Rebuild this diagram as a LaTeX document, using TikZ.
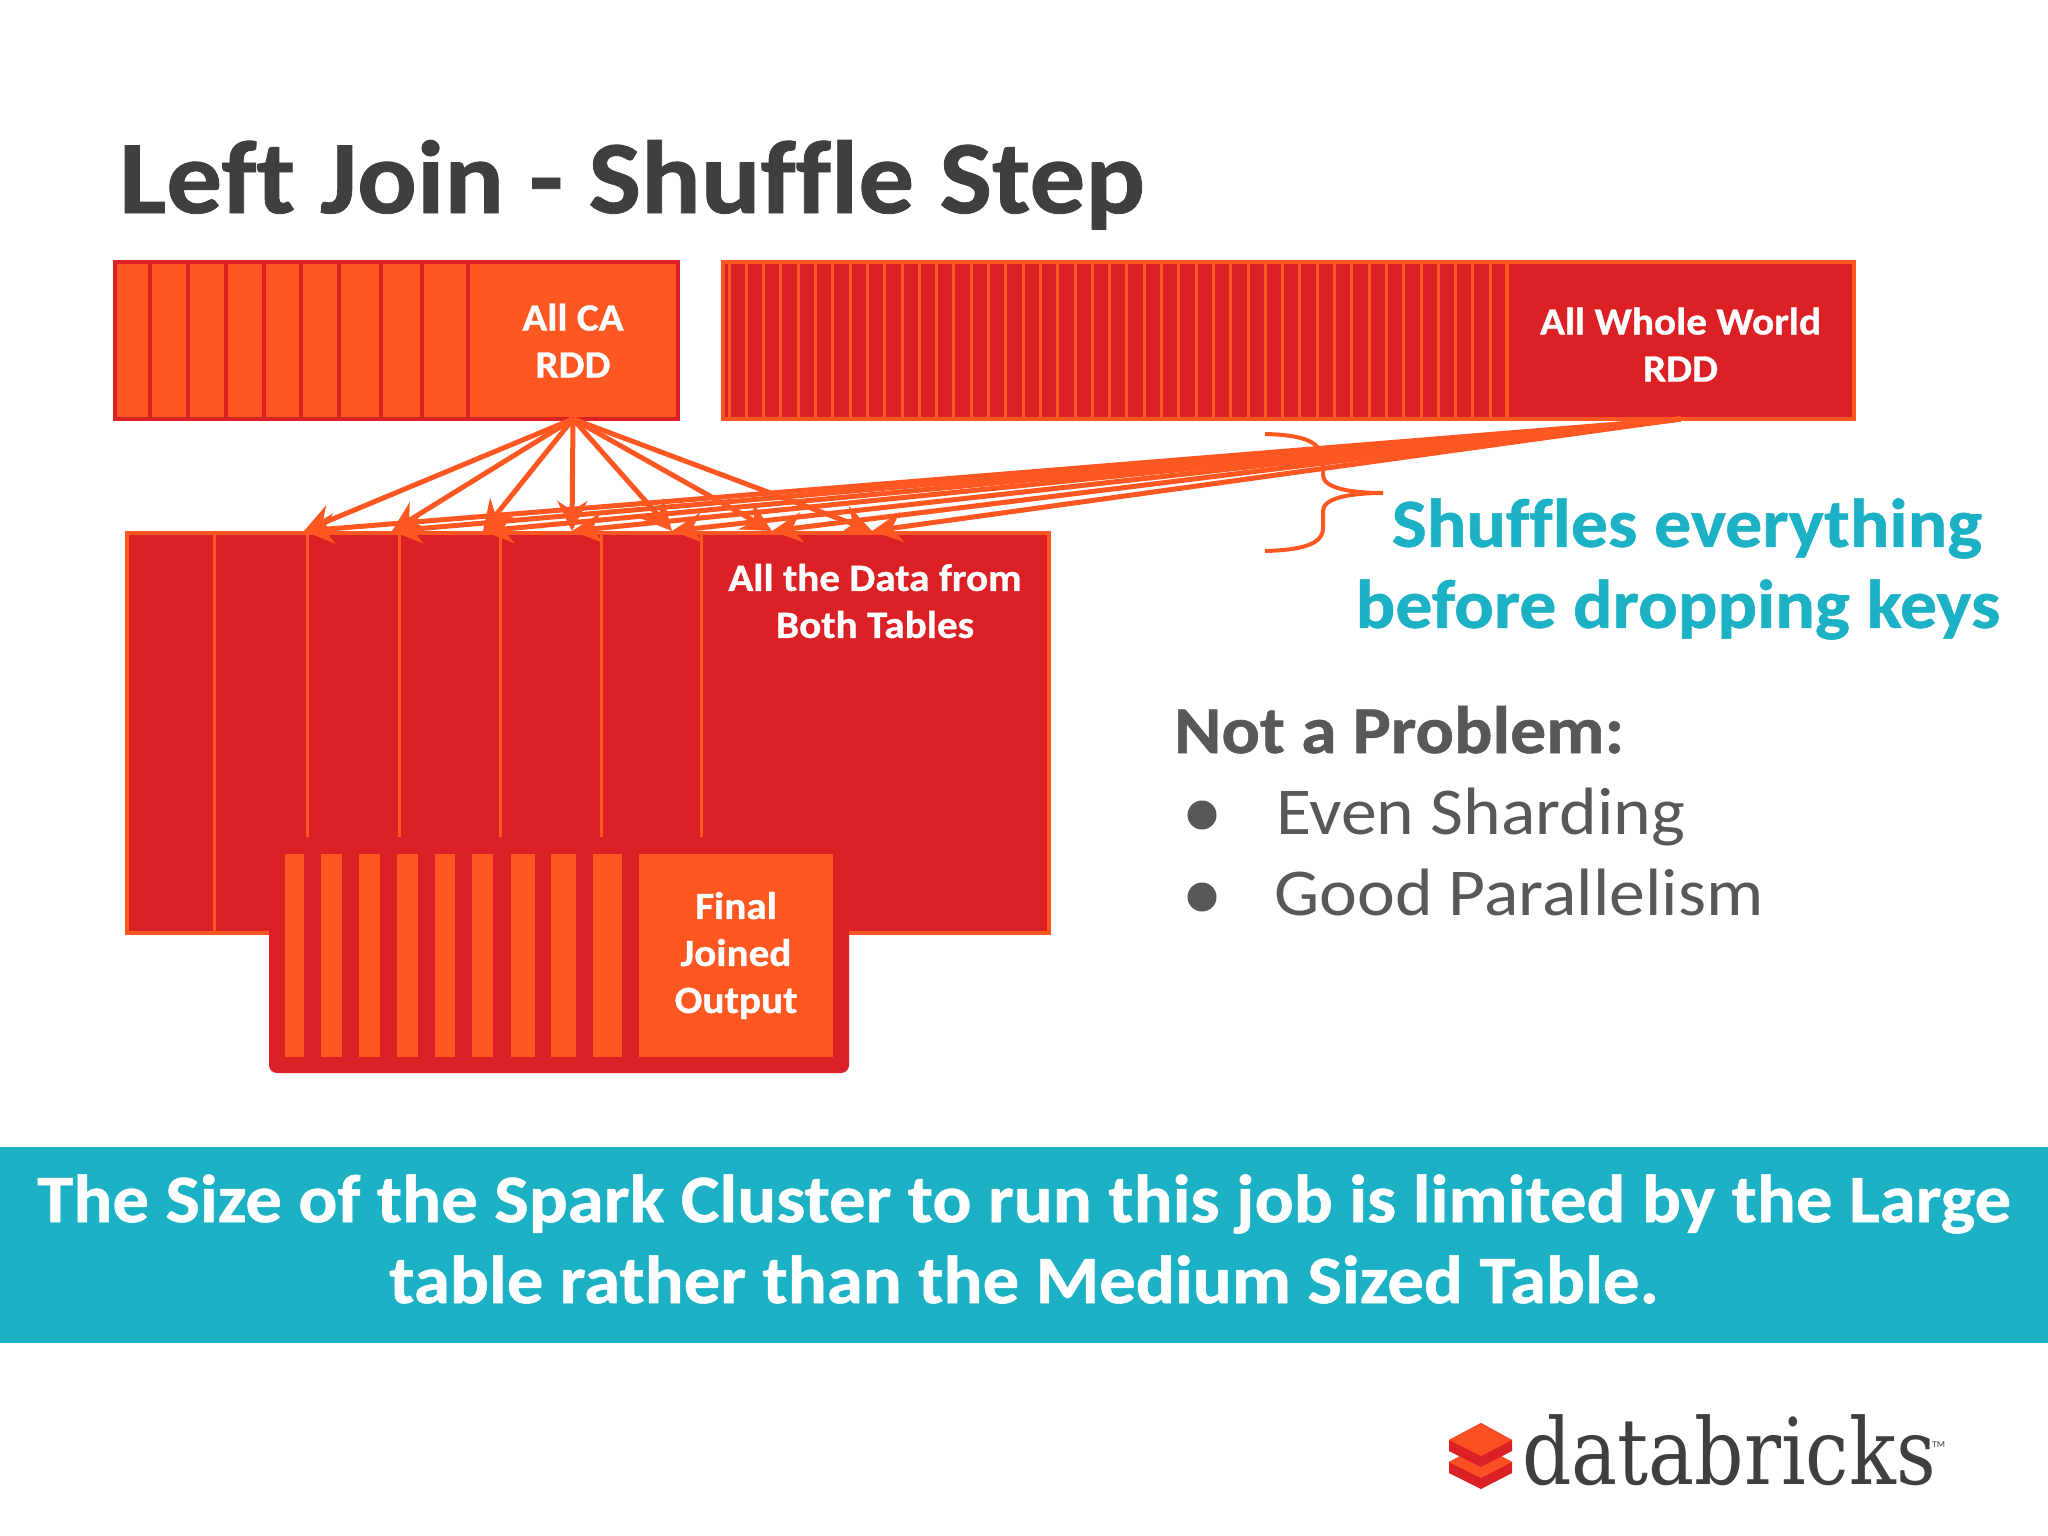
\documentclass[tikz,border=0pt]{standalone}
\usepackage{fontspec}
\setmainfont[Ligatures=NoCommon,FakeStretch=1.07,BoldFeatures={FakeBold=0.8}]{Carlito}
\newfontfamily\logofont[FakeStretch=0.84]{DejaVu Serif}
\usetikzlibrary{arrows.meta,positioning}
\definecolor{brickorange}{HTML}{FF5722}
\definecolor{brickred}{HTML}{DC2126}
\definecolor{shuffleteal}{HTML}{1CB1C4}
\definecolor{titlegray}{HTML}{3F3F40}
\definecolor{bodygray}{HTML}{58585A}
\tikzset{
  cacell/.style ={fill=brickorange,draw=brickred,line width=4pt,text=white,font=\fontsize{38.5}{47}\selectfont\bfseries,
                  align=center,outer sep=0pt,inner sep=0pt,anchor=north west},
  wwcell/.style ={fill=brickred,draw=brickorange,line width=4pt,text=white,font=\fontsize{38.5}{47}\selectfont\bfseries,
                  align=center,outer sep=0pt,inner sep=0pt,anchor=north west},
  outcell/.style={fill=brickorange,text=white,font=\fontsize{38.5}{47}\selectfont\bfseries,
                  align=center,outer sep=0pt,inner sep=0pt,anchor=north west},
  inlabel/.style={text=white,font=\fontsize{38.5}{47}\selectfont\bfseries,align=center},
  teal/.style   ={text=shuffleteal,font=\fontsize{69}{81}\selectfont\bfseries,align=center},
  bandtext/.style={text=white,font=\fontsize{68}{81}\selectfont\bfseries,align=center},
  ar/.style     ={brickorange,line width=5pt,-{Stealth[length=30pt,width=30pt]}},
  div/.style    ={brickorange,line width=3pt},
  bul/.style    ={circle,fill=bodygray,minimum size=29pt,inner sep=0pt},
  item/.style   ={text=bodygray,font=\fontsize{67}{81}\selectfont,anchor=base west,inner sep=0pt},
}
\begin{document}
\begin{tikzpicture}[x=1pt,y=-1pt]
\useasboundingbox (0,0) rectangle (2048,1536);
\node[anchor=base west,inner sep=0pt,text=titlegray,font=\fontsize{104}{104}\selectfont\bfseries] (title) at (119,213) {Left Join - Shuffle Step};

\draw[fill=brickorange,draw=brickred,line width=4pt] (115,262) rectangle (678,419);
\foreach \x in {150,188,226,264,301,339,381,422}
  \draw[brickred,line width=4pt] (\x,262) -- (\x,419);
\node[cacell,minimum width=210pt,minimum height=157pt] (cardd) at (468,262) {All CA\\RDD};

\draw[fill=brickred,draw=brickorange,line width=4pt] (723,262) rectangle (1854,419);
\foreach \x in {729,746.3,...,1500}
  \draw[div] (\x,262) -- (\x,419);
\node[wwcell,minimum width=347pt,minimum height=157pt] (wwrdd) at (1507,262) {\rule{0pt}{35pt}All Whole World\\RDD};

\draw[fill=brickred,draw=brickorange,line width=4pt] (127,533) rectangle (1049,933);
\draw[div] (214,533) -- (214,933);
\foreach \x in {307,399,500,601,701}
  \draw[div] (\x,533) -- (\x,837);
\node[inlabel] (alldata) at (875,601) {All the Data from\\Both Tables};

\foreach \i/\x in {1/304,2/392,3/483,4/572,5/672,6/772,7/872}{
  \coordinate (tip\i) at (\x,531);
  \draw[ar] (wwrdd.south) -- (tip\i);
}
\foreach \i in {1,...,7}
  \draw[ar] (cardd.south) -- (tip\i);

\draw[brickorange,line width=4pt] (1265,434) .. controls (1300,435) and (1323,440) .. (1323,462) -- (1323,475)
  .. controls (1323,488) and (1350,493) .. (1383,493) .. controls (1350,493) and (1323,498) .. (1323,511) -- (1323,528)
  .. controls (1323,545) and (1300,550) .. (1265,551);
\node[teal] (shuffles) at (1678,569) {\hspace*{18pt}Shuffles everything\\before dropping keys};

\fill[brickred,rounded corners=8pt] (269,837) rectangle (849,1073);
\foreach \a/\b in {285/304,321/342,358.5/380,397/418,435/455,472/493,510.5/535,551/576,593/622}
  \fill[brickorange] (\a,854) rectangle (\b,1057);
\node[outcell,minimum width=194pt,minimum height=203pt] (output) at (639,854) {Final\\Joined\\Output};

\node[anchor=base west,inner sep=0pt,text=bodygray,font=\fontsize{67}{67}\selectfont\bfseries] (problem) at (1174,753) {Not a Problem:};
\node[bul] (b1) at (1202,815) {};
\node[item] (even) at (1276,834) {Even Sharding};
\node[bul] (b2) at (1202,897) {};
\node[item] (good) at (1274,915) {Good Parallelism};

\fill[shuffleteal] (0,1147) rectangle (2048,1343);
\node[bandtext] (band) at (1024,1239) {The Size of the Spark Cluster to run this job is limited by the Large\\table rather than the Medium Sized Table.};

\fill[brickred] (1449,1462) -- (1481,1445) -- (1512,1462) -- (1512,1473) -- (1481,1489) -- (1449,1473) -- cycle;
\fill[brickorange!85!brickred] (1449,1462) -- (1481,1445) -- (1512,1462) -- (1481,1478) -- cycle;
\fill[brickred] (1449,1440) -- (1481,1423) -- (1512,1440) -- (1512,1451) -- (1481,1467) -- (1449,1451) -- cycle;
\fill[brickorange!85!brickred] (1449,1440) -- (1481,1423) -- (1512,1440) -- (1481,1456) -- cycle;
\node[anchor=base west,inner sep=0pt,text=titlegray,font=\logofont\fontsize{92}{92}\selectfont] (logo) at (1522,1484) {databricks};
\node[anchor=base west,inner sep=0pt,text=titlegray,font=\fontsize{9}{9}\selectfont] (tm) at (1932,1447) {TM};
\end{tikzpicture}
\end{document}
